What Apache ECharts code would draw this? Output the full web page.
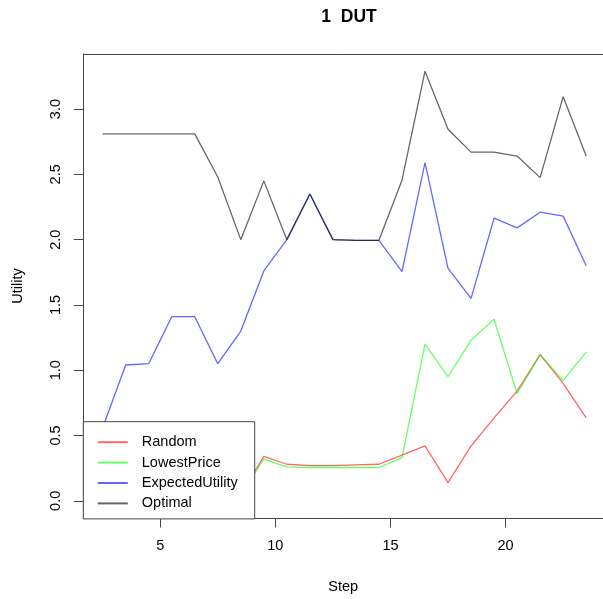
<!DOCTYPE html>
<html>
<head>
<meta charset="utf-8">
<script src="https://cdn.jsdelivr.net/npm/echarts@6/dist/echarts.min.js"></script>
<style>
  html, body { margin: 0; padding: 0; background: #fff; }
  #main { width: 603px; height: 599px; }
</style>
</head>
<body>
<div id="main"></div>
<script>
// steps (x positions of the points)
var steps = [2.5, 3.5, 4.5, 5.5, 6.5, 7.5, 8.5, 9.5, 10.5, 11.5, 12.5,
             13.5, 14.5, 15.5, 16.5, 17.5, 18.5, 19.5, 20.5, 21.5, 22.5, 23.5];

// utilities (first few red/green points sit under the legend)
var random = [0.00, 0.06, 0.08, 0.06, 0.09, 0.06, 0.05, 0.34, 0.28, 0.27, 0.27,
              0.275, 0.28, 0.35, 0.42, 0.14, 0.42, 0.635, 0.84, 1.12, 0.90, 0.635];
var lowestPrice = [0.00, 0.05, 0.07, 0.05, 0.08, 0.05, 0.04, 0.32, 0.26, 0.255, 0.255,
                   0.255, 0.255, 0.33, 1.20, 0.95, 1.23, 1.39, 0.82, 1.12, 0.92, 1.14];
var expectedUtility = [0.56, 1.04, 1.05, 1.41, 1.41, 1.05, 1.30, 1.76, 2.00, 2.35, 2.00,
                       1.995, 1.995, 1.755, 2.59, 1.78, 1.55, 2.165, 2.09, 2.21, 2.18, 1.80];
var optimal = [2.81, 2.81, 2.81, 2.81, 2.81, 2.48, 2.00, 2.45, 2.00, 2.35, 2.00,
               1.995, 1.995, 2.455, 3.29, 2.845, 2.67, 2.67, 2.64, 2.475, 3.095, 2.64];

var seriesNames = ['Random', 'LowestPrice', 'ExpectedUtility', 'Optimal'];
var seriesColors = ['rgba(255,0,0,0.6)', 'rgba(0,255,0,0.6)', 'rgba(0,0,255,0.6)', 'rgba(0,0,0,0.6)'];

var xTicks = [5, 10, 15, 20];
var yTicks = [0, 0.5, 1, 1.5, 2, 2.5, 3];

var FONT = 'Liberation Sans';
var BOX = '#444';

function pairs(vals) {
  var out = [];
  for (var i = 0; i < steps.length; i++) {
    out.push([steps[i], vals[i]]);
  }
  return out;
}

var allVals = [random, lowestPrice, expectedUtility, optimal];
var series = [];
for (var i = 0; i < allVals.length; i++) {
  series.push({
    name: seriesNames[i],
    type: 'line',
    data: pairs(allVals[i]),
    symbol: 'none',
    color: seriesColors[i],
    lineStyle: { color: seriesColors[i], width: 1.3 },
    animation: false
  });
}

// R pads the data range by 4%; the box runs off the right edge of the picture,
// so the x axis stops where the canvas does
var xMin = 2.5 - (23.5 - 2.5) * 0.04, xMax = 24.23;
var yMin = 0 - 3.29 * 0.04, yMax = 3.29 + 3.29 * 0.04;

// plain axis on the top closes the box
function boxAxis(pos, min, max) {
  return {
    type: 'value', position: pos, min: min, max: max,
    axisLine: { show: true, onZero: false, lineStyle: { color: BOX } },
    axisTick: { show: false }, axisLabel: { show: false }, splitLine: { show: false }
  };
}

var option = {
  animation: false,
  title: {
    text: '1  DUT',
    left: 344,
    top: 3,
    textAlign: 'center',
    textStyle: { fontFamily: FONT, fontSize: 17.5, fontWeight: 'bold', color: '#000' }
  },
  grid: {
    left: 83.3,
    right: 0,
    top: 54,
    bottom: 81,
    show: false
  },
  legend: {
    data: seriesNames,
    orient: 'vertical',
    left: 83.3,
    top: 421.7,
    padding: [13, 17, 8, 13.5],
    itemWidth: 30,
    itemHeight: 14,
    itemGap: 5.4,
    itemStyle: { opacity: 0 },
    backgroundColor: '#fff',
    borderColor: BOX,
    borderWidth: 1,
    borderRadius: 0,
    textStyle: { fontFamily: FONT, fontSize: 14.5, color: '#000', padding: [0, 0, 0, 9] }
  },
  xAxis: [{
    type: 'value',
    position: 'bottom',
    min: xMin,
    max: xMax,
    name: 'Step',
    nameLocation: 'middle',
    nameGap: 61,
    nameTextStyle: { fontFamily: FONT, fontSize: 14.5, color: '#000' },
    axisLine: { show: true, onZero: false, lineStyle: { color: BOX } },
    splitLine: { show: false },
    axisTick: { show: true, inside: false, length: 9.5, customValues: xTicks, lineStyle: { color: BOX, width: 1 } },
    axisLabel: { customValues: xTicks, margin: 20, fontFamily: FONT, fontSize: 14.5, color: '#000' }
  }, boxAxis('top', xMin, xMax)],
  yAxis: [{
    type: 'value',
    position: 'left',
    min: yMin,
    max: yMax,
    name: 'Utility',
    nameLocation: 'middle',
    nameGap: 58,
    nameTextStyle: { fontFamily: FONT, fontSize: 14.5, color: '#000' },
    axisLine: { show: true, onZero: false, lineStyle: { color: BOX } },
    splitLine: { show: false },
    axisTick: { show: true, inside: false, length: 9.5, customValues: yTicks, lineStyle: { color: BOX, width: 1 } },
    axisLabel: {
      customValues: yTicks,
      rotate: 90,
      margin: 20,
      fontFamily: FONT,
      fontSize: 14.5,
      color: '#000',
      formatter: function (v) { return v.toFixed(1); }
    }
  }],
  series: series
};

var main = document.getElementById('main');
echarts.init(main, null, { renderer: 'canvas' }).setOption(option);
</script>
</body>
</html>
